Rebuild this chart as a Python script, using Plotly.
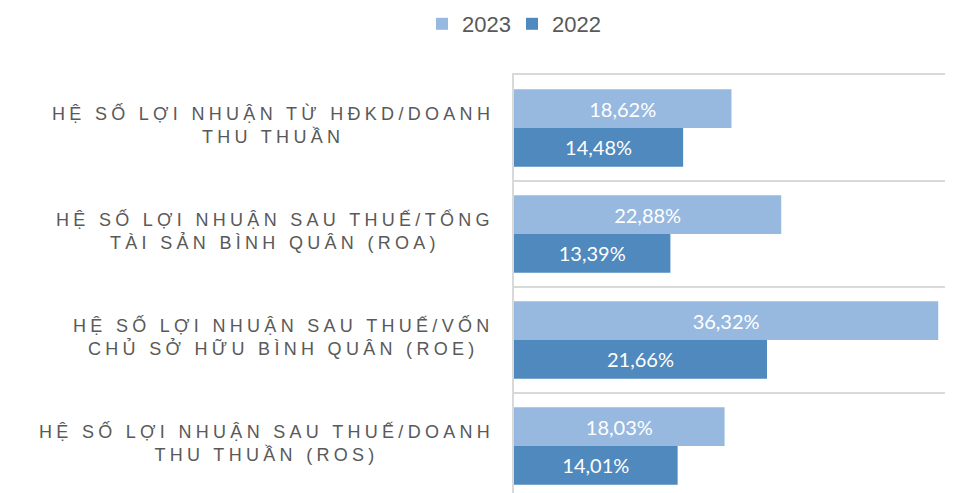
import plotly.graph_objects as go

categories = [
    "HỆ SỐ LỢI NHUẬN TỪ HĐKD/DOANH<br>THU THUẦN",
    "HỆ SỐ LỢI NHUẬN SAU THUẾ/TỔNG<br>TÀI SẢN BÌNH QUÂN (ROA)",
    "HỆ SỐ LỢI NHUẬN SAU THUẾ/VỐN<br>CHỦ SỞ HỮU BÌNH QUÂN (ROE)",
    "HỆ SỐ LỢI NHUẬN SAU THUẾ/DOANH<br>THU THUẦN (ROS)",
]
series_names = ["2023", "2022"]
values_2023 = [18.62, 22.88, 36.32, 18.03]
values_2022 = [14.48, 13.39, 21.66, 14.01]
colors = ["#97B9E0", "#4F89BD"]

# page body has an 8px margin, so the figure is drawn 8px smaller
W, H = 945, 485
L, T = 506, 67
plot_w = W - L
plot_h = H - T
cat_px = 106.0
px_per_unit = 11.68

def fmt(v):
    return f"{v:.2f}%".replace(".", ",")

fig = go.Figure()
for name, vals, col in zip(series_names, [values_2023, values_2022], colors):
    fig.add_trace(go.Bar(
        y=categories, x=vals, name=name, orientation="h",
        marker=dict(color=col, line=dict(width=0)),
        text=[fmt(v) for v in vals], textposition="inside",
        insidetextanchor="middle", constraintext="none",
        textfont=dict(family="Lato", size=20, color="white"),
        hoverinfo="skip",
    ))

annotations = []
for c in categories:
    lines = c.split("<br>")
    txt = "<br>".join(f"<span style='letter-spacing:4.3px'>{ln}</span>" for ln in lines)
    annotations.append(dict(
        x=0, xref="paper", y=c, yref="y", xanchor="right", yanchor="middle",
        xshift=-18, yshift=3, align="center", showarrow=False, text=txt,
        font=dict(family="Liberation Sans", size=18, color="#595959"),
    ))

fig.update_layout(
    width=W, height=H,
    margin=dict(l=L, r=0, t=T, b=0, pad=0, autoexpand=False),
    paper_bgcolor="white", plot_bgcolor="white",
    barmode="group", bargap=0.27, bargroupgap=0,
    showlegend=True,
    legend=dict(
        orientation="h", x=(414 - L) / plot_w, xanchor="left",
        y=1 + (T - 16) / plot_h, yanchor="middle",
        font=dict(family="Liberation Sans", size=22, color="#595959"),
        entrywidth=45, entrywidthmode="pixels", itemwidth=30,
        bgcolor="rgba(0,0,0,0)", traceorder="normal",
    ),
    xaxis=dict(range=[0, plot_w / px_per_unit], showgrid=False, zeroline=False,
               showticklabels=False, ticks="", fixedrange=True, side="top",
               automargin=False,
               showline=True, linecolor="#D9D9D9", linewidth=1.5),
    yaxis=dict(type="category", categoryorder="array", categoryarray=categories,
               range=[-0.5 + plot_h / cat_px, -0.5], tickson="boundaries",
               showgrid=True, gridcolor="#D9D9D9", gridwidth=1.5, automargin=False,
               showline=True, linecolor="#D9D9D9", linewidth=1.5,
               showticklabels=False, ticks="", zeroline=False),
    annotations=annotations,
)

fig.write_html("out.html")
